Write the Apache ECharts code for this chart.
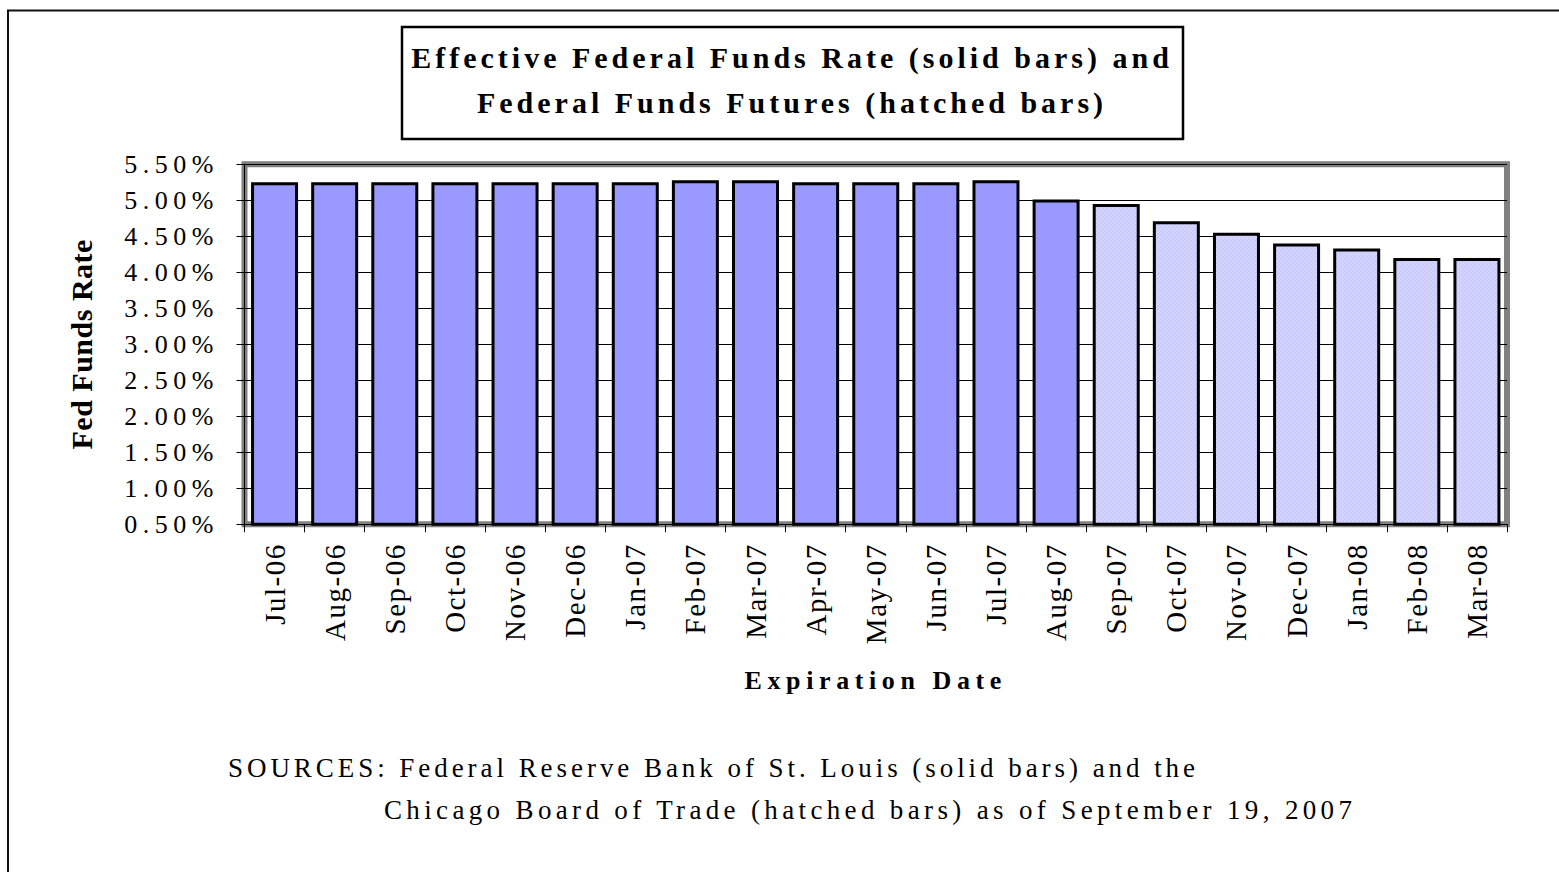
<!DOCTYPE html>
<html>
<head>
<meta charset="utf-8">
<script src="https://cdn.jsdelivr.net/npm/echarts@6/dist/echarts.min.js"></script>
<style>
html, body { margin: 0; padding: 0; background: #fff; }
#chart { width: 1559px; height: 872px; }
#chart text[style*="ttlfont"] { letter-spacing: 4px; }
#chart text[style*="ylabfont"] { letter-spacing: 5.5px; }
#chart text[style*="xlabfont"] { letter-spacing: 1.5px; }
#chart text[style*="xnamefont"] { letter-spacing: 5.6px; }
#chart text[style*="ynamefont"] { letter-spacing: 0.5px; }
#chart text[style*="srcafont"] { letter-spacing: 3.95px; }
#chart text[style*="srcbfont"] { letter-spacing: 4.35px; }
</style>
</head>
<body>
<div id="chart"></div>
<script>
const categories = ['Jul-06', 'Aug-06', 'Sep-06', 'Oct-06', 'Nov-06', 'Dec-06', 'Jan-07',
  'Feb-07', 'Mar-07', 'Apr-07', 'May-07', 'Jun-07', 'Jul-07', 'Aug-07',
  'Sep-07', 'Oct-07', 'Nov-07', 'Dec-07', 'Jan-08', 'Feb-08', 'Mar-08'];
// Effective federal funds rate (solid bars), percent
const effectiveRate = [5.25, 5.25, 5.25, 5.25, 5.25, 5.25, 5.25,
  5.28, 5.28, 5.25, 5.25, 5.25, 5.28, 5.01,
  null, null, null, null, null, null, null];
// Federal funds futures (hatched bars), percent
const futuresRate = [null, null, null, null, null, null, null,
  null, null, null, null, null, null, null,
  4.95, 4.71, 4.55, 4.40, 4.33, 4.20, 4.20];
const yTicks = { min: 0.5, max: 5.5, interval: 0.5 };
const titleLines = ['Effective Federal Funds Rate (solid bars) and', 'Federal Funds Futures (hatched bars)'];
const sourceLines = ['SOURCES: Federal Reserve Bank of St. Louis (solid bars) and the',
  'Chicago Board of Trade (hatched bars) as of September 19, 2007'];

function hatchCanvas() {
  const c = document.createElement('canvas');
  c.width = 4; c.height = 4;
  const g = c.getContext('2d');
  g.fillStyle = '#D3D3FF';
  g.fillRect(0, 0, 4, 4);
  g.fillStyle = '#C4C4F7';
  for (let i = 0; i < 4; i++) g.fillRect(i, 3 - i, 1, 1);
  return c;
}

const serif = "'Liberation Serif', 'Times New Roman'";
const chart = echarts.init(document.getElementById('chart'), null, { renderer: 'svg' });
chart.setOption({
  animation: false,
  backgroundColor: '#fff',
  title: {
    text: titleLines.join('\n'),
    left: 792, top: 35, padding: 0,
    textAlign: 'center',
    textStyle: { fontSize: 30, fontWeight: 'bold', fontFamily: serif + ', ttlfont', color: '#000', lineHeight: 45 }
  },
  graphic: [
    { type: 'rect', z: -10, silent: true, shape: { x: 8, y: 10.5, width: 1700, height: 1000 },
      style: { fill: 'none', stroke: '#111', lineWidth: 2 } },
    { type: 'rect', z: -10, silent: true, shape: { x: 402, y: 27, width: 781, height: 112 },
      style: { fill: '#fff', stroke: '#000', lineWidth: 2.5 } },
    { type: 'text', silent: true, x: 228, y: 768,
      style: { text: sourceLines[0], font: "27px " + serif + ", srcafont", fill: '#000', verticalAlign: 'middle', align: 'left' } },
    { type: 'text', silent: true, x: 384, y: 810,
      style: { text: sourceLines[1], font: "27px " + serif + ", srcbfont", fill: '#000', verticalAlign: 'middle', align: 'left' } }
  ],
  grid: {
    left: 244.5, right: 52, top: 164.3, bottom: 347.7,
    show: true, borderColor: '#808080', borderWidth: 6, backgroundColor: '#fff',
    containLabel: false, outerBoundsMode: 'none'
  },
  xAxis: {
    type: 'category',
    data: categories,
    axisLine: { show: true, lineStyle: { color: '#000', width: 1 } },
    axisTick: { show: true, length: 8, lineStyle: { color: '#000', width: 1 } },
    axisLabel: { rotate: 90, interval: 0, margin: 19, color: '#000', fontSize: 29, fontFamily: serif + ', xlabfont' },
    name: 'Expiration Date',
    nameLocation: 'middle',
    nameGap: 143,
    nameTextStyle: { fontSize: 26, fontWeight: 'bold', fontFamily: serif + ', xnamefont', color: '#000' }
  },
  yAxis: {
    type: 'value',
    min: yTicks.min, max: yTicks.max, interval: yTicks.interval,
    axisLine: { show: true, lineStyle: { color: '#000', width: 1 } },
    axisTick: { show: true, length: 8, lineStyle: { color: '#000', width: 1 } },
    splitLine: { show: true, lineStyle: { color: '#000', width: 1 } },
    axisLabel: {
      margin: 25.5, color: '#000', fontSize: 26, fontFamily: serif + ', ylabfont',
      formatter: v => v.toFixed(2) + '%'
    },
    name: 'Fed Funds Rate',
    nameLocation: 'middle',
    nameRotate: 90,
    nameGap: 148,
    nameTextStyle: { fontSize: 30, fontWeight: 'bold', fontFamily: serif + ', ynamefont', color: '#000' }
  },
  series: [
    {
      name: 'Effective Federal Funds Rate', type: 'bar', data: effectiveRate,
      barWidth: 47, barGap: '-100%',
      itemStyle: { color: '#9999FF', borderColor: '#000', borderWidth: 3 }
    },
    {
      name: 'Federal Funds Futures', type: 'bar', data: futuresRate,
      barWidth: 47, barGap: '-100%',
      itemStyle: { color: { image: hatchCanvas(), repeat: 'repeat' }, borderColor: '#000', borderWidth: 3 }
    }
  ]
});
</script>
</body>
</html>
